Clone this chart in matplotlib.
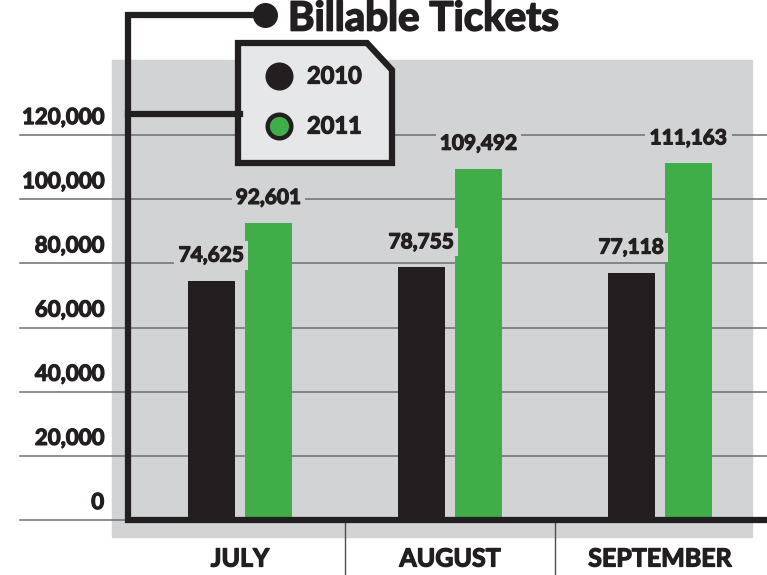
import matplotlib
matplotlib.use("Agg")
import matplotlib.pyplot as plt
import matplotlib.transforms as mtransforms
import matplotlib.patheffects as pe
from matplotlib.lines import Line2D
from matplotlib.patches import Rectangle, Polygon
import numpy as np

plt.rcParams['font.family'] = ['Lato', 'DejaVu Sans']

# данные
months = ["JULY", "AUGUST", "SEPTEMBER"]
series = ["2010", "2011"]
tickets_2010 = [74625, 78755, 77118]
tickets_2011 = [92601, 109492, 111163]
yticks = [0, 20000, 40000, 60000, 80000, 100000, 120000]

dark = '#231f20'
green = '#3fae49'
panel = '#d1d3d4'
grid_c = '#6d6e71'
thick = [pe.withStroke(linewidth=0.9, foreground=dark)]

W, H = 767, 575
fig = plt.figure(figsize=(W / 100, H / 100), dpi=100)


def fx(x):
    return x / W


def fy(y):
    return 1 - y / H


ax = fig.add_axes([fx(128), fy(520), fx(767) - fx(128), fy(135) - fy(520)])
ax.set_ylim(0, 120000)
ax.set_xlim(-0.533, 2.51)
ax.axis('off')

# серый фон
ax.add_patch(Rectangle((fx(112), fy(537)), fx(752) - fx(112), fy(60) - fy(537),
                       transform=fig.transFigure, color=panel, zorder=0, clip_on=False))

# линии сетки и подписи
tr = mtransforms.blended_transform_factory(ax.transAxes, ax.transData)
x0 = (20 - 128) / (767 - 128)
for v in yticks:
    ax.plot([x0, 1], [v, v], color=grid_c, lw=1.1, transform=tr, clip_on=False, zorder=1)
    ax.text(x0 + (104 - 20) / 639, v, f"{v:,}", transform=tr + mtransforms.ScaledTranslation(0, 5 / 72, fig.dpi_scale_trans),
            ha='right', va='bottom', fontsize=16, fontweight='bold', color=dark, path_effects=thick)

x = np.arange(len(months))
bw = 0.224
off = 0.136
b1 = ax.bar(x - off, tickets_2010, bw, color=dark, zorder=2)
b2 = ax.bar(x + off, tickets_2011, bw, color=green, zorder=2)

for bars in (b1, b2):
    for r in bars:
        h = r.get_height()
        ax.annotate(f"{h:,}", (r.get_x() + r.get_width() / 2, h), xytext=(0, 18),
                    textcoords='offset points', ha='center', va='center',
                    fontsize=15, fontweight='bold', color=dark, zorder=3, path_effects=thick,
                    bbox=dict(boxstyle='square,pad=0.2', fc=panel, ec='none'))

# месяцы и разделители
trx = mtransforms.blended_transform_factory(ax.transData, ax.transAxes)
for i, m in enumerate(months):
    ax.text(i, (520 - 559) / 385, m, transform=trx, ha='center', va='center',
            fontsize=18, fontweight='bold', color=dark, path_effects=thick)
for i in range(len(months) - 1):
    ax.plot([i + 0.5, i + 0.5], [0, -(575 - 520) / 385], transform=trx, color='#4d4d4d',
            lw=1, clip_on=False, zorder=1)

# рамка
fig.add_artist(Line2D([fx(265), fx(128), fx(128), fx(767)], [fy(15), fy(15), fy(520), fy(520)],
                      color=dark, lw=4.5, solid_joinstyle='miter', solid_capstyle='butt'))
fig.add_artist(Line2D([fx(128), fx(240)], [fy(114), fy(114)], color=dark, lw=4.5))
fig.add_artist(Line2D([fx(265)], [fy(15)], marker='o', markersize=17, color=dark))
fig.text(fx(288), fy(19), "Billable Tickets", ha='left', va='center',
         fontsize=29, fontweight='bold', color=dark,
         path_effects=[pe.withStroke(linewidth=1.2, foreground=dark)])

# легенда
pts = [(238, 43), (367, 43), (392, 70), (392, 163), (238, 163)]
fig.add_artist(Polygon([(fx(a), fy(b)) for a, b in pts], closed=True, fc='#e6e7e8',
                       ec=dark, lw=4.5, joinstyle='miter', transform=fig.transFigure))
for name, col, yy in zip(series, [dark, green], [76, 126]):
    fig.add_artist(Line2D([fx(279)], [fy(yy)], marker='o', markersize=17, markerfacecolor=col,
                          markeredgecolor=dark, markeredgewidth=3.2))
    fig.text(fx(307), fy(yy), name, ha='left', va='center', fontsize=17,
             fontweight='bold', color=dark, path_effects=thick)

fig.savefig("out.png", dpi=100)
